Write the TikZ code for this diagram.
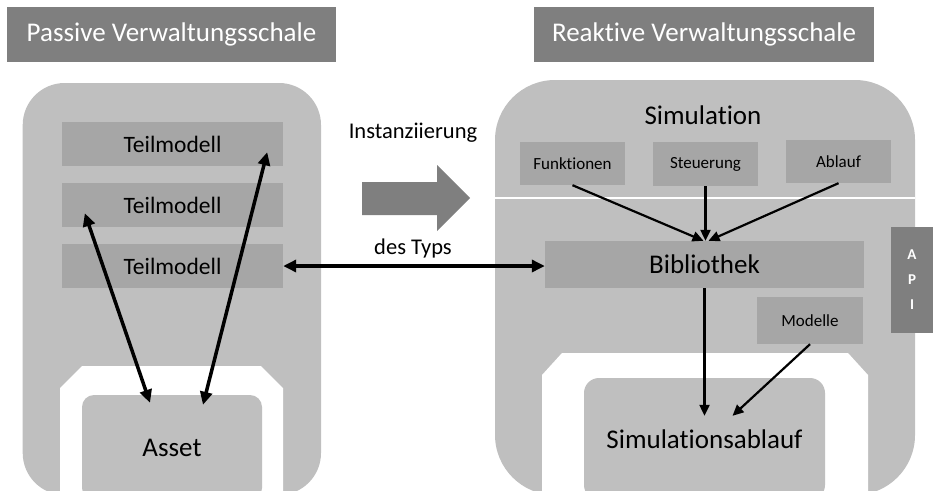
\documentclass[tikz,border=0pt]{standalone}
\usepackage{fontspec}
\setmainfont{Carlito}[Ligatures=NoCommon]
\usetikzlibrary{arrows.meta,calc}
\definecolor{shellgray}{HTML}{BFBFBF}
\definecolor{boxgray}{HTML}{A6A6A6}
\definecolor{darkgray}{HTML}{7F7F7F}
\begin{document}
\begin{tikzpicture}[x=1pt,y=-1pt,
  title/.style={fill=darkgray,text=white,inner sep=0pt,font=\fontsize{27}{32}\selectfont},
  partbox/.style={fill=boxgray,inner sep=0pt,font=\fontsize{23.5}{28}\selectfont},
  smallbox/.style={fill=boxgray,inner sep=0pt,font=\fontsize{17}{20}\selectfont},
  innerbox/.style={fill=shellgray,rounded corners=12pt,inner sep=0pt,font=\fontsize{27}{32}\selectfont},
  bigtxt/.style={inner sep=0pt,font=\fontsize{27}{32}\selectfont},
  midtxt/.style={inner sep=0pt,font=\fontsize{22.5}{26}\selectfont},
  thick arrow/.style={line width=3.5pt,{Triangle[length=13pt,width=12pt]}-{Triangle[length=13pt,width=12pt]}},
  thin arrow/.style={line width=2.2pt,-{Triangle[length=11pt,width=10pt]}}
]
\useasboundingbox (0,0) rectangle (933,490);
\begin{scope}
\clip (0,0) rectangle (933,490);
% titles
\node[title,minimum width=329pt,minimum height=55pt] (tl) at (171.5,34.5) {Passive Verwaltungsschale};
\node[title,minimum width=340pt,minimum height=55pt] (tr) at (704,34.5) {Reaktive Verwaltungsschale};
% left shell
\fill[shellgray,rounded corners=42pt] (22.7,83) rectangle (321,495);
\fill[white] (60,500) -- (60,388) -- (82,366) -- (261,366) -- (283,388) -- (283,500) -- cycle;
\node[innerbox,minimum width=180pt,minimum height=105pt] (asset) at (172,447.5) {Asset};
\node[partbox,minimum width=221pt,minimum height=44pt] (t1) at (172.5,144) {Teilmodell};
\node[partbox,minimum width=221pt,minimum height=44pt] (t2) at (172.5,205) {Teilmodell};
\node[partbox,minimum width=221pt,minimum height=44pt] (t3) at (172.5,266) {Teilmodell};
% right shell
\fill[shellgray,rounded corners=60pt] (495,80) rectangle (915,495);
\draw[white,line width=2pt] (495,198) -- (915,198);
\fill[white] (542,500) -- (542,375) -- (562,353) -- (848,353) -- (868,375) -- (868,500) -- cycle;
\node[innerbox,rounded corners=15pt,minimum width=241pt,minimum height=122pt,text depth=0pt] (sim) at (704.5,439) {Simulationsablauf};
\node[bigtxt] (simt) at (703,115) {Simulation};
\node[smallbox,minimum width=105pt,minimum height=43pt] (fun) at (572.5,163.5) {Funktionen};
\node[smallbox,minimum width=105pt,minimum height=44pt] (steu) at (705.5,164) {Steuerung};
\node[smallbox,minimum width=105pt,minimum height=43pt] (abl) at (838.5,161.5) {Ablauf};
\node[partbox,font=\fontsize{27}{32}\selectfont,minimum width=319pt,minimum height=47pt] (bib) at (704.5,264.5) {Bibliothek};
\node[smallbox,minimum width=106pt,minimum height=47pt] (mod) at (810,320.5) {Modelle};
\node[fill=darkgray,text=white,inner sep=0pt,minimum width=42pt,minimum height=106pt,align=center,
  font=\fontsize{15}{25}\selectfont\bfseries] (api) at (912,280) {A\\P\\I};
% middle
\fill[darkgray] (362,182) -- (437,182) -- (437,165) -- (470,198) -- (437,231) -- (437,215) -- (362,215) -- cycle;
\node[midtxt] (inst) at (413,133) {Instanziierung};
\node[midtxt] (typ) at (413,248) {des Typs};
% arrows
\draw[thick arrow] ([xshift=23pt,yshift=14pt]t2.south west) -- ([xshift=-22pt,yshift=-8pt]asset.north);
\draw[thick arrow] ([xshift=-16pt,yshift=14pt]t1.south east) -- ([xshift=31pt,yshift=-10pt]asset.north);
\draw[thick arrow] (t3.east) -- (t3.east -| bib.west);
\draw[thin arrow] (fun.south) -- ([xshift=-1pt]bib.north);
\draw[thin arrow] (steu.south) -- ([xshift=1pt]bib.north);
\draw[thin arrow] (abl.south) -- ([xshift=4pt]bib.north);
\draw[thin arrow] (bib.south) -- ([yshift=-38pt]sim.north);
\draw[thin arrow] (mod.south) -- ([xshift=28pt,yshift=-38pt]sim.north);
\end{scope}
\end{tikzpicture}
\end{document}
